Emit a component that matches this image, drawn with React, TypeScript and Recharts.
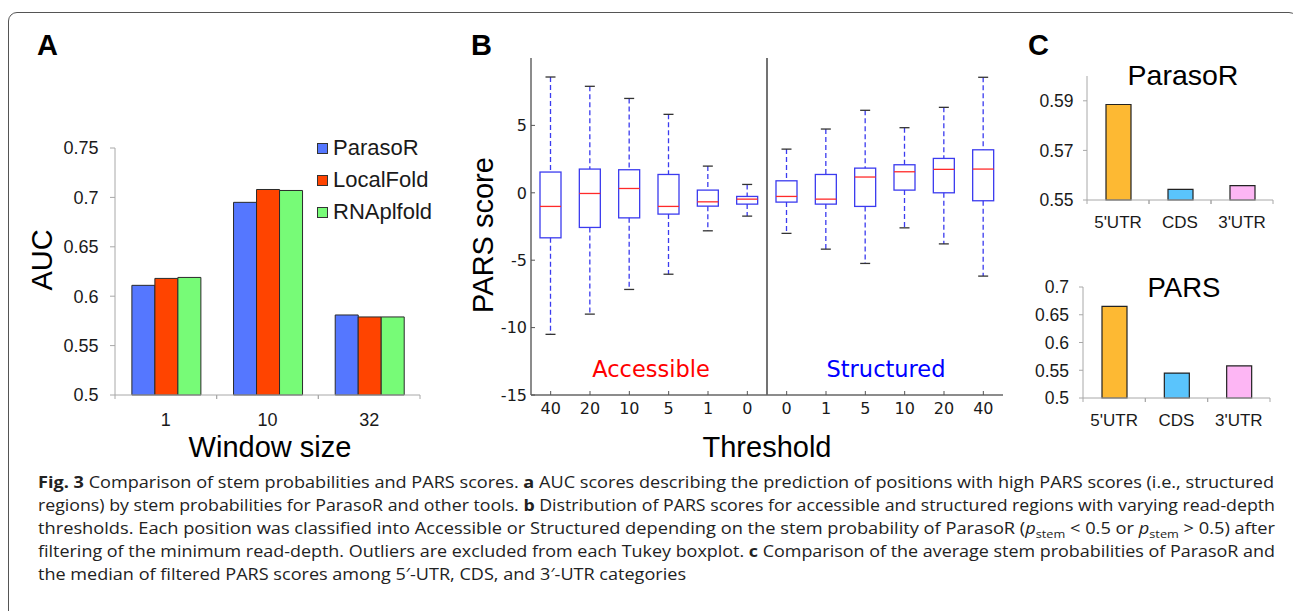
import React from "react";
import { Bar, BarChart, Cell, ComposedChart, Legend, ReferenceLine, XAxis, YAxis } from "recharts";

// panel A: AUC by window size
const windowSizes = ["1", "10", "32"];
const toolNames = ["ParasoR", "LocalFold", "RNAplfold"];
const parasorAuc = [0.611, 0.695, 0.581];
const localFoldAuc = [0.618, 0.708, 0.579];
const rnaplfoldAuc = [0.619, 0.707, 0.579];
const aucTicks = [0.5, 0.55, 0.6, 0.65, 0.7, 0.75];

// panel B: PARS score boxplots (accessible then structured)
const thresholds = ["40", "20", "10", "5", "1", "0", "0", "1", "5", "10", "20", "40"];
const whiskerLow = [-10.5, -9.0, -7.17, -6.04, -2.82, -1.73, -3.01, -4.18, -5.24, -2.6, -3.79, -6.18];
const lowerQuartile = [-3.34, -2.57, -1.86, -1.58, -0.99, -0.84, -0.69, -0.84, -1.01, 0.2, 0.0, -0.59];
const medians = [-1.01, -0.05, 0.32, -1.01, -0.67, -0.47, -0.27, -0.47, 1.17, 1.56, 1.74, 1.76];
const upperQuartile = [1.54, 1.76, 1.71, 1.36, 0.2, -0.27, 0.89, 1.36, 1.83, 2.08, 2.55, 3.19];
const whiskerHigh = [8.59, 7.9, 7.0, 5.82, 1.98, 0.62, 3.24, 4.73, 6.12, 4.83, 6.34, 8.57];
const parsTicks = [-15, -10, -5, 0, 5];

// panel C: per-region averages
const regions = ["5'UTR", "CDS", "3'UTR"];
const parasorStem = [0.5885, 0.5543, 0.5558];
const parsMedian = [0.665, 0.545, 0.558];
const stemTicks = [0.55, 0.57, 0.59];
const medianTicks = [0.5, 0.55, 0.6, 0.65, 0.7];

const ARIAL = "'Liberation Sans', Arial, sans-serif";
const DEJAVU = "'DejaVu Sans', sans-serif";
const CAPTION_FONT = "'Open Sans', 'Noto Sans', sans-serif";
const TEXT = "#1a1a1a";
const AXIS_GRAY = "#a8a8a8";
const FRAME_GRAY = "#666";
const BOX_BLUE = "#3b3bef";
const REGION_COLORS = ["#fdb933", "#5ac4fc", "#fdb6f4"];

const aucRows = windowSizes.map((w, i) => ({
  w,
  parasor: parasorAuc[i],
  localfold: localFoldAuc[i],
  rnaplfold: rnaplfoldAuc[i],
}));

const boxRows = thresholds.map((label, i) => ({
  pos: i + 0.5,
  label,
  low: whiskerLow[i],
  q1: lowerQuartile[i],
  med: medians[i],
  q3: upperQuartile[i],
  high: whiskerHigh[i],
}));
const boxPositions = boxRows.map((r) => r.pos);

const stemRows = regions.map((region, i) => ({ region, value: parasorStem[i] }));
const medianRows = regions.map((region, i) => ({ region, value: parsMedian[i] }));

function makeCategoryTick(band: number, labelOffset: number, fontSize: number) {
  return (props: any) => {
    const { x, y, payload } = props;
    return (
      <g>
        <line x1={x - band / 2} x2={x - band / 2} y1={y} y2={y + 4} stroke={AXIS_GRAY} />
        <line x1={x + band / 2} x2={x + band / 2} y1={y} y2={y + 4} stroke={AXIS_GRAY} />
        <text x={x} y={y + labelOffset} textAnchor="middle" fontSize={fontSize} fontFamily={ARIAL} fill={TEXT}>
          {payload.value}
        </text>
      </g>
    );
  };
}

function makeValueTick(tickLen: number, gap: number, fontSize: number) {
  return (props: any) => {
    const { x, y, payload } = props;
    return (
      <g>
        <line x1={x - tickLen} x2={x} y1={y} y2={y} stroke={AXIS_GRAY} />
        <text x={x - gap} y={y} dy="0.36em" textAnchor="end" fontSize={fontSize} fontFamily={ARIAL} fill={TEXT}>
          {String(payload.value)}
        </text>
      </g>
    );
  };
}

function BoxXTick(props: any) {
  const { x, y, index } = props;
  return (
    <g>
      <line x1={x} x2={x} y1={y} y2={y - 4} stroke="#555" />
      <text x={x} y={y + 19} textAnchor="middle" fontSize={16} fontFamily={DEJAVU} fill={TEXT}>
        {thresholds[index]}
      </text>
    </g>
  );
}

function BoxYTick(props: any) {
  const { x, y, payload } = props;
  return (
    <g>
      <line x1={x} x2={x + 4} y1={y} y2={y} stroke="#555" />
      <text x={x - 4} y={y} dy="0.36em" textAnchor="end" fontSize={16} fontFamily={DEJAVU} fill={TEXT}>
        {String(payload.value)}
      </text>
    </g>
  );
}

function BoxShape(props: any) {
  const { x, y, width, height, payload } = props;
  if (!payload) return null;
  const top = Math.min(y, y + height);
  const span = Math.abs(height);
  const py = (v: number) => top + (span * (payload.high - v)) / (payload.high - payload.low);
  const cx = x + width / 2;
  const yQ3 = py(payload.q3);
  const yQ1 = py(payload.q1);
  const yMed = py(payload.med);
  const bottom = top + span;
  return (
    <g>
      <line x1={cx} x2={cx} y1={top} y2={yQ3} stroke={BOX_BLUE} strokeWidth={1.3} strokeDasharray="5 3" />
      <line x1={cx} x2={cx} y1={yQ1} y2={bottom} stroke={BOX_BLUE} strokeWidth={1.3} strokeDasharray="5 3" />
      <line x1={cx - 5} x2={cx + 5} y1={top} y2={top} stroke="#333" strokeWidth={1.3} />
      <line x1={cx - 5} x2={cx + 5} y1={bottom} y2={bottom} stroke="#333" strokeWidth={1.3} />
      <rect x={x} y={yQ3} width={width} height={yQ1 - yQ3} fill="none" stroke={BOX_BLUE} strokeWidth={1.3} />
      <line x1={x} x2={x + width} y1={yMed} y2={yMed} stroke="#ff2a2a" strokeWidth={1.3} />
    </g>
  );
}

function AucLegend(props: any) {
  const items = [...(props.payload || [])].sort(
    (a: any, b: any) => toolNames.indexOf(a.value) - toolNames.indexOf(b.value)
  );
  return (
    <div>
      {items.map((item: any) => (
        <div key={item.value} style={{ display: "flex", alignItems: "center", height: 32 }}>
          <span
            style={{
              display: "inline-block",
              width: 9,
              height: 9,
              background: item.color,
              border: "1px solid #333",
            }}
          />
          <span style={{ marginLeft: 5, fontSize: 22, fontFamily: ARIAL, color: TEXT }}>{item.value}</span>
        </div>
      ))}
    </div>
  );
}

function PanelA() {
  return (
    <BarChart
      width={460}
      height={470}
      data={aucRows}
      margin={{ top: 148, right: 40, bottom: 45, left: 0 }}
      barGap={0}
      barCategoryGap="16.6%"
    >
      <XAxis
        dataKey="w"
        height={30}
        axisLine={{ stroke: AXIS_GRAY }}
        tickLine={false}
        tickSize={0}
        tickMargin={0}
        interval={0}
        tick={makeCategoryTick(305 / 3, 30.5, 18)}
      />
      <YAxis
        type="number"
        domain={[0.5, 0.75]}
        ticks={aucTicks}
        width={115}
        axisLine={{ stroke: AXIS_GRAY }}
        tickLine={false}
        tickSize={0}
        tickMargin={0}
        interval={0}
        tick={makeValueTick(5, 16.5, 18)}
      />
      <Legend
        layout="vertical"
        align="center"
        verticalAlign="middle"
        content={<AucLegend />}
        wrapperStyle={{ left: 317, top: 132, width: 140 }}
      />
      <Bar dataKey="parasor" name={toolNames[0]} fill="#5577ff" stroke="#2a2a2a" strokeWidth={1} isAnimationActive={false} />
      <Bar dataKey="localfold" name={toolNames[1]} fill="#ff4400" stroke="#2a2a2a" strokeWidth={1} isAnimationActive={false} />
      <Bar dataKey="rnaplfold" name={toolNames[2]} fill="#77fb77" stroke="#2a2a2a" strokeWidth={1} isAnimationActive={false} />
    </BarChart>
  );
}

function PanelB() {
  return (
    <ComposedChart width={560} height={470} data={boxRows} margin={{ top: 58, right: 17, bottom: 45, left: 0 }}>
      <XAxis
        xAxisId="b"
        dataKey="pos"
        type="number"
        domain={[0, 12]}
        ticks={boxPositions}
        interval={0}
        height={30}
        axisLine={{ stroke: FRAME_GRAY, strokeWidth: 1.5 }}
        tickLine={false}
        tickSize={0}
        tickMargin={0}
        tick={<BoxXTick />}
      />
      <XAxis
        xAxisId="t"
        orientation="top"
        dataKey="pos"
        type="number"
        domain={[0, 12]}
        ticks={boxPositions}
        interval={0}
        mirror
        height={0}
        tickSize={4}
        tick={false}
        axisLine={{ stroke: FRAME_GRAY, strokeWidth: 1.5 }}
        tickLine={{ stroke: "#555" }}
      />
      <YAxis
        yAxisId="l"
        type="number"
        domain={[-15, 10]}
        ticks={parsTicks}
        interval={0}
        width={71}
        axisLine={{ stroke: FRAME_GRAY, strokeWidth: 1.5 }}
        tickLine={false}
        tickSize={0}
        tickMargin={0}
        tick={<BoxYTick />}
      />
      <YAxis
        yAxisId="r"
        orientation="right"
        type="number"
        domain={[-15, 10]}
        ticks={parsTicks}
        interval={0}
        mirror
        width={0}
        tickSize={4}
        tick={false}
        axisLine={{ stroke: FRAME_GRAY, strokeWidth: 1.5 }}
        tickLine={{ stroke: "#555" }}
      />
      <ReferenceLine xAxisId="b" yAxisId="l" x={6} stroke="#444" strokeWidth={1.5} />
      <Bar
        xAxisId="b"
        yAxisId="l"
        dataKey={(d: any) => [d.low, d.high]}
        barSize={21}
        shape={<BoxShape />}
        isAnimationActive={false}
      />
    </ComposedChart>
  );
}

function RegionChart(props: {
  rows: { region: string; value: number }[];
  domain: [number, number];
  ticks: number[];
  width: number;
  height: number;
  margin: { top: number; right: number; bottom: number; left: number };
  axisWidth: number;
  plotWidth: number;
  labelGap: number;
}) {
  const { rows, domain, ticks, width, height, margin, axisWidth, plotWidth, labelGap } = props;
  return (
    <BarChart width={width} height={height} data={rows} margin={margin}>
      <XAxis
        dataKey="region"
        height={30}
        axisLine={{ stroke: AXIS_GRAY }}
        tickLine={false}
        tickSize={0}
        tickMargin={0}
        interval={0}
        tick={makeCategoryTick(plotWidth / 3, 28, 17)}
      />
      <YAxis
        type="number"
        domain={domain}
        ticks={ticks}
        width={axisWidth}
        axisLine={{ stroke: AXIS_GRAY }}
        tickLine={false}
        tickSize={0}
        tickMargin={0}
        interval={0}
        tick={makeValueTick(4, labelGap, 17.5)}
      />
      <Bar dataKey="value" barSize={25} stroke="#222" strokeWidth={1.2} isAnimationActive={false}>
        {rows.map((r, i) => (
          <Cell key={r.region} fill={REGION_COLORS[i]} />
        ))}
      </Bar>
    </BarChart>
  );
}

function Overlay() {
  const title = { fontFamily: ARIAL, fill: "#000" };
  return (
    <svg width={1293} height={470} style={{ position: "absolute", left: 0, top: 0, pointerEvents: "none" }}>
      <text x={37} y={55} fontSize={29} fontWeight="bold" {...title}>A</text>
      <text x={471} y={55} fontSize={29} fontWeight="bold" {...title}>B</text>
      <text x={1028} y={55} fontSize={29} fontWeight="bold" {...title}>C</text>
      <text transform="translate(52,260) rotate(-90)" textAnchor="middle" fontSize={29} {...title}>AUC</text>
      <text x={270} y={457} textAnchor="middle" fontSize={29} {...title}>Window size</text>
      <text transform="translate(493,235) rotate(-90)" textAnchor="middle" fontSize={29} {...title}>PARS score</text>
      <text x={767} y={457} textAnchor="middle" fontSize={29} {...title}>Threshold</text>
      <text x={651} y={377} textAnchor="middle" fontSize={22.5} fontFamily={DEJAVU} fill="#ff0000">Accessible</text>
      <text x={886} y={377} textAnchor="middle" fontSize={22.5} fontFamily={DEJAVU} fill="#0000ff">Structured</text>
      <text x={1183} y={85} textAnchor="middle" fontSize={28.5} {...title}>ParasoR</text>
      <text x={1184} y={297} textAnchor="middle" fontSize={27.5} {...title}>PARS</text>
    </svg>
  );
}

function Caption() {
  const base = { x: 38, fontFamily: CAPTION_FONT, fontSize: 16.5, fill: "#222", lengthAdjust: "spacingAndGlyphs" as const };
  return (
    <svg width={1293} height={151} style={{ position: "absolute", left: 0, top: 460 }}>
      <text {...base} y={28} textLength={1236}>
        <tspan fontWeight="bold">Fig. 3</tspan> Comparison of stem probabilities and PARS scores.{" "}
        <tspan fontWeight="bold">a</tspan> AUC scores describing the prediction of positions with high PARS scores (i.e., structured
      </text>
      <text {...base} y={51} textLength={1237}>
        regions) by stem probabilities for ParasoR and other tools. <tspan fontWeight="bold">b</tspan> Distribution of PARS
        scores for accessible and structured regions with varying read-depth
      </text>
      <text {...base} y={74} textLength={1237}>
        thresholds. Each position was classified into Accessible or Structured depending on the stem probability of ParasoR (
        <tspan fontStyle="italic">p</tspan>
        <tspan fontSize={11.5} dy={4}>stem</tspan>
        <tspan dy={-4}> &lt; 0.5 or </tspan>
        <tspan fontStyle="italic">p</tspan>
        <tspan fontSize={11.5} dy={4}>stem</tspan>
        <tspan dy={-4}> &gt; 0.5) after</tspan>
      </text>
      <text {...base} y={97} textLength={1237}>
        filtering of the minimum read-depth. Outliers are excluded from each Tukey boxplot.{" "}
        <tspan fontWeight="bold">c</tspan> Comparison of the average stem probabilities of ParasoR and
      </text>
      <text {...base} y={120} textLength={648}>
        the median of filtered PARS scores among 5′-UTR, CDS, and 3′-UTR categories
      </text>
    </svg>
  );
}

export default function App() {
  return (
    <div
      style={{
        position: "absolute",
        left: 0,
        top: 0,
        width: 1293,
        height: 611,
        overflow: "hidden",
        background: "#fff",
      }}
    >
      <div
        style={{
          position: "absolute",
          left: 8,
          top: 12,
          width: 1288,
          height: 700,
          border: "1.4px solid #555",
          borderRadius: 9,
        }}
      />
      <div style={{ position: "absolute", left: 0, top: 0 }}>
        <PanelA />
      </div>
      <div style={{ position: "absolute", left: 460, top: 0 }}>
        <PanelB />
      </div>
      <div style={{ position: "absolute", left: 1010, top: 0 }}>
        <RegionChart
          rows={stemRows}
          domain={[0.55, 0.6]}
          ticks={stemTicks}
          width={283}
          height={240}
          margin={{ top: 76, right: 20, bottom: 10, left: 0 }}
          axisWidth={77}
          plotWidth={186}
          labelGap={13.5}
        />
      </div>
      <div style={{ position: "absolute", left: 1010, top: 240 }}>
        <RegionChart
          rows={medianRows}
          domain={[0.5, 0.7]}
          ticks={medianTicks}
          width={283}
          height={230}
          margin={{ top: 47, right: 23, bottom: 42, left: 0 }}
          axisWidth={73}
          plotWidth={187}
          labelGap={14}
        />
      </div>
      <Overlay />
      <Caption />
    </div>
  );
}
